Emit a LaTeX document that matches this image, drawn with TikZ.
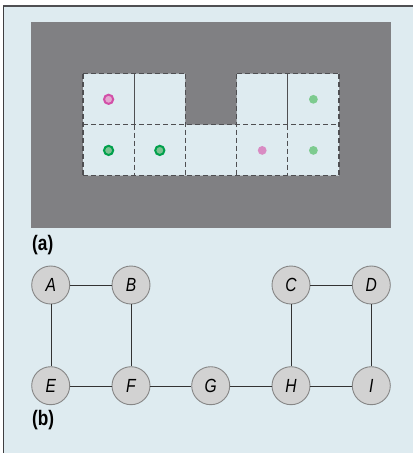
\documentclass[tikz,border=0pt]{standalone}
\usepackage{fontspec}
\setmainfont{Liberation Sans}[FakeStretch=0.82]
\definecolor{paper}{HTML}{DEEBF0}
\definecolor{slab}{HTML}{808083}
\definecolor{rim}{HTML}{4F4F52}
\definecolor{pinkd}{HTML}{D24FA8}
\definecolor{pinkl}{HTML}{E4A6CF}
\definecolor{greend}{HTML}{00A04C}
\definecolor{greenl}{HTML}{7CC191}
\definecolor{pinkdot}{HTML}{D98BC3}
\definecolor{greendot}{HTML}{7DCB8F}
\begin{document}
\begin{tikzpicture}[x=1pt,y=-1pt,
	vert/.style={circle,draw=gray!95,line width=0.9pt,fill=gray!35,minimum size=38pt,inner sep=0pt,font=\fontsize{19}{19}\selectfont\itshape},
	wall/.style={draw=rim,dash pattern=on 5pt off 3pt,line width=1.2pt},
	sublabel/.style={anchor=west,inner sep=0pt,font=\fontsize{21}{21}\selectfont\bfseries}]
	\useasboundingbox (0,0) rectangle (413,453);
	\fill[paper] (3,6) rectangle (413,453);
	\draw[rim,line width=1.8pt] (3,6) -- (413,6);
	\draw[rim!80!black,line width=1.4pt] (3.7,6) -- (3.7,453);
	% (a) floor plan
	\fill[slab] (31,22) rectangle (391,228);
	\fill[paper] (83,73.7) rectangle (185.4,175.7) (185.4,124.7) rectangle (236.6,175.7)
		(236.6,73.7) rectangle (339,175.7);
	\draw[wall] (83,73.7) -- (185.4,73.7) (236.6,73.7) -- (339,73.7)
		(83,124.7) -- (339,124.7) (83,175.7) -- (339,175.7);
	\foreach \x in {83,185.4,236.6,339}
		\draw[wall] (\x,73.7) -- (\x,175.7);
	\foreach \x in {134.2,287.8}{
		\draw[rim,line width=0.7pt] (\x,73.7) -- (\x,124.7);
		\draw[wall] (\x,124.7) -- (\x,175.7);
	}
	\draw[pinkd,fill=pinkl,line width=2pt] (108.6,99.3) circle (4.6);
	\draw[greend,fill=greenl,line width=2pt] (108.6,150.4) circle (4.6);
	\draw[greend,fill=greenl,line width=2pt] (159.8,150.4) circle (4.6);
	\fill[pinkdot] (262.2,150.4) circle (4.4);
	\fill[greendot] (313.4,99.3) circle (4.4);
	\fill[greendot] (313.4,150.4) circle (4.4);
	\node[sublabel] (la) at (32,245) {(a)};
	% (b) graph
	\node[vert] (A) at (50.7,285) {A};
	\node[vert] (B) at (131,285) {B};
	\node[vert] (C) at (291,285) {C};
	\node[vert] (D) at (371.3,285) {D};
	\node[vert] (E) at (50.7,385.7) {E};
	\node[vert] (F) at (131,385.7) {F};
	\node[vert] (G) at (210.7,385.7) {G};
	\node[vert] (H) at (291,385.7) {H};
	\node[vert] (I) at (371.3,385.7) {I};
	\draw[black!80] (A) -- (B) (A) -- (E) (B) -- (F) (C) -- (D) (C) -- (H) (D) -- (I)
		(E) -- (F) -- (G) -- (H) -- (I);
	\node[sublabel] (lb) at (32,420) {(b)};
\end{tikzpicture}
\end{document}
